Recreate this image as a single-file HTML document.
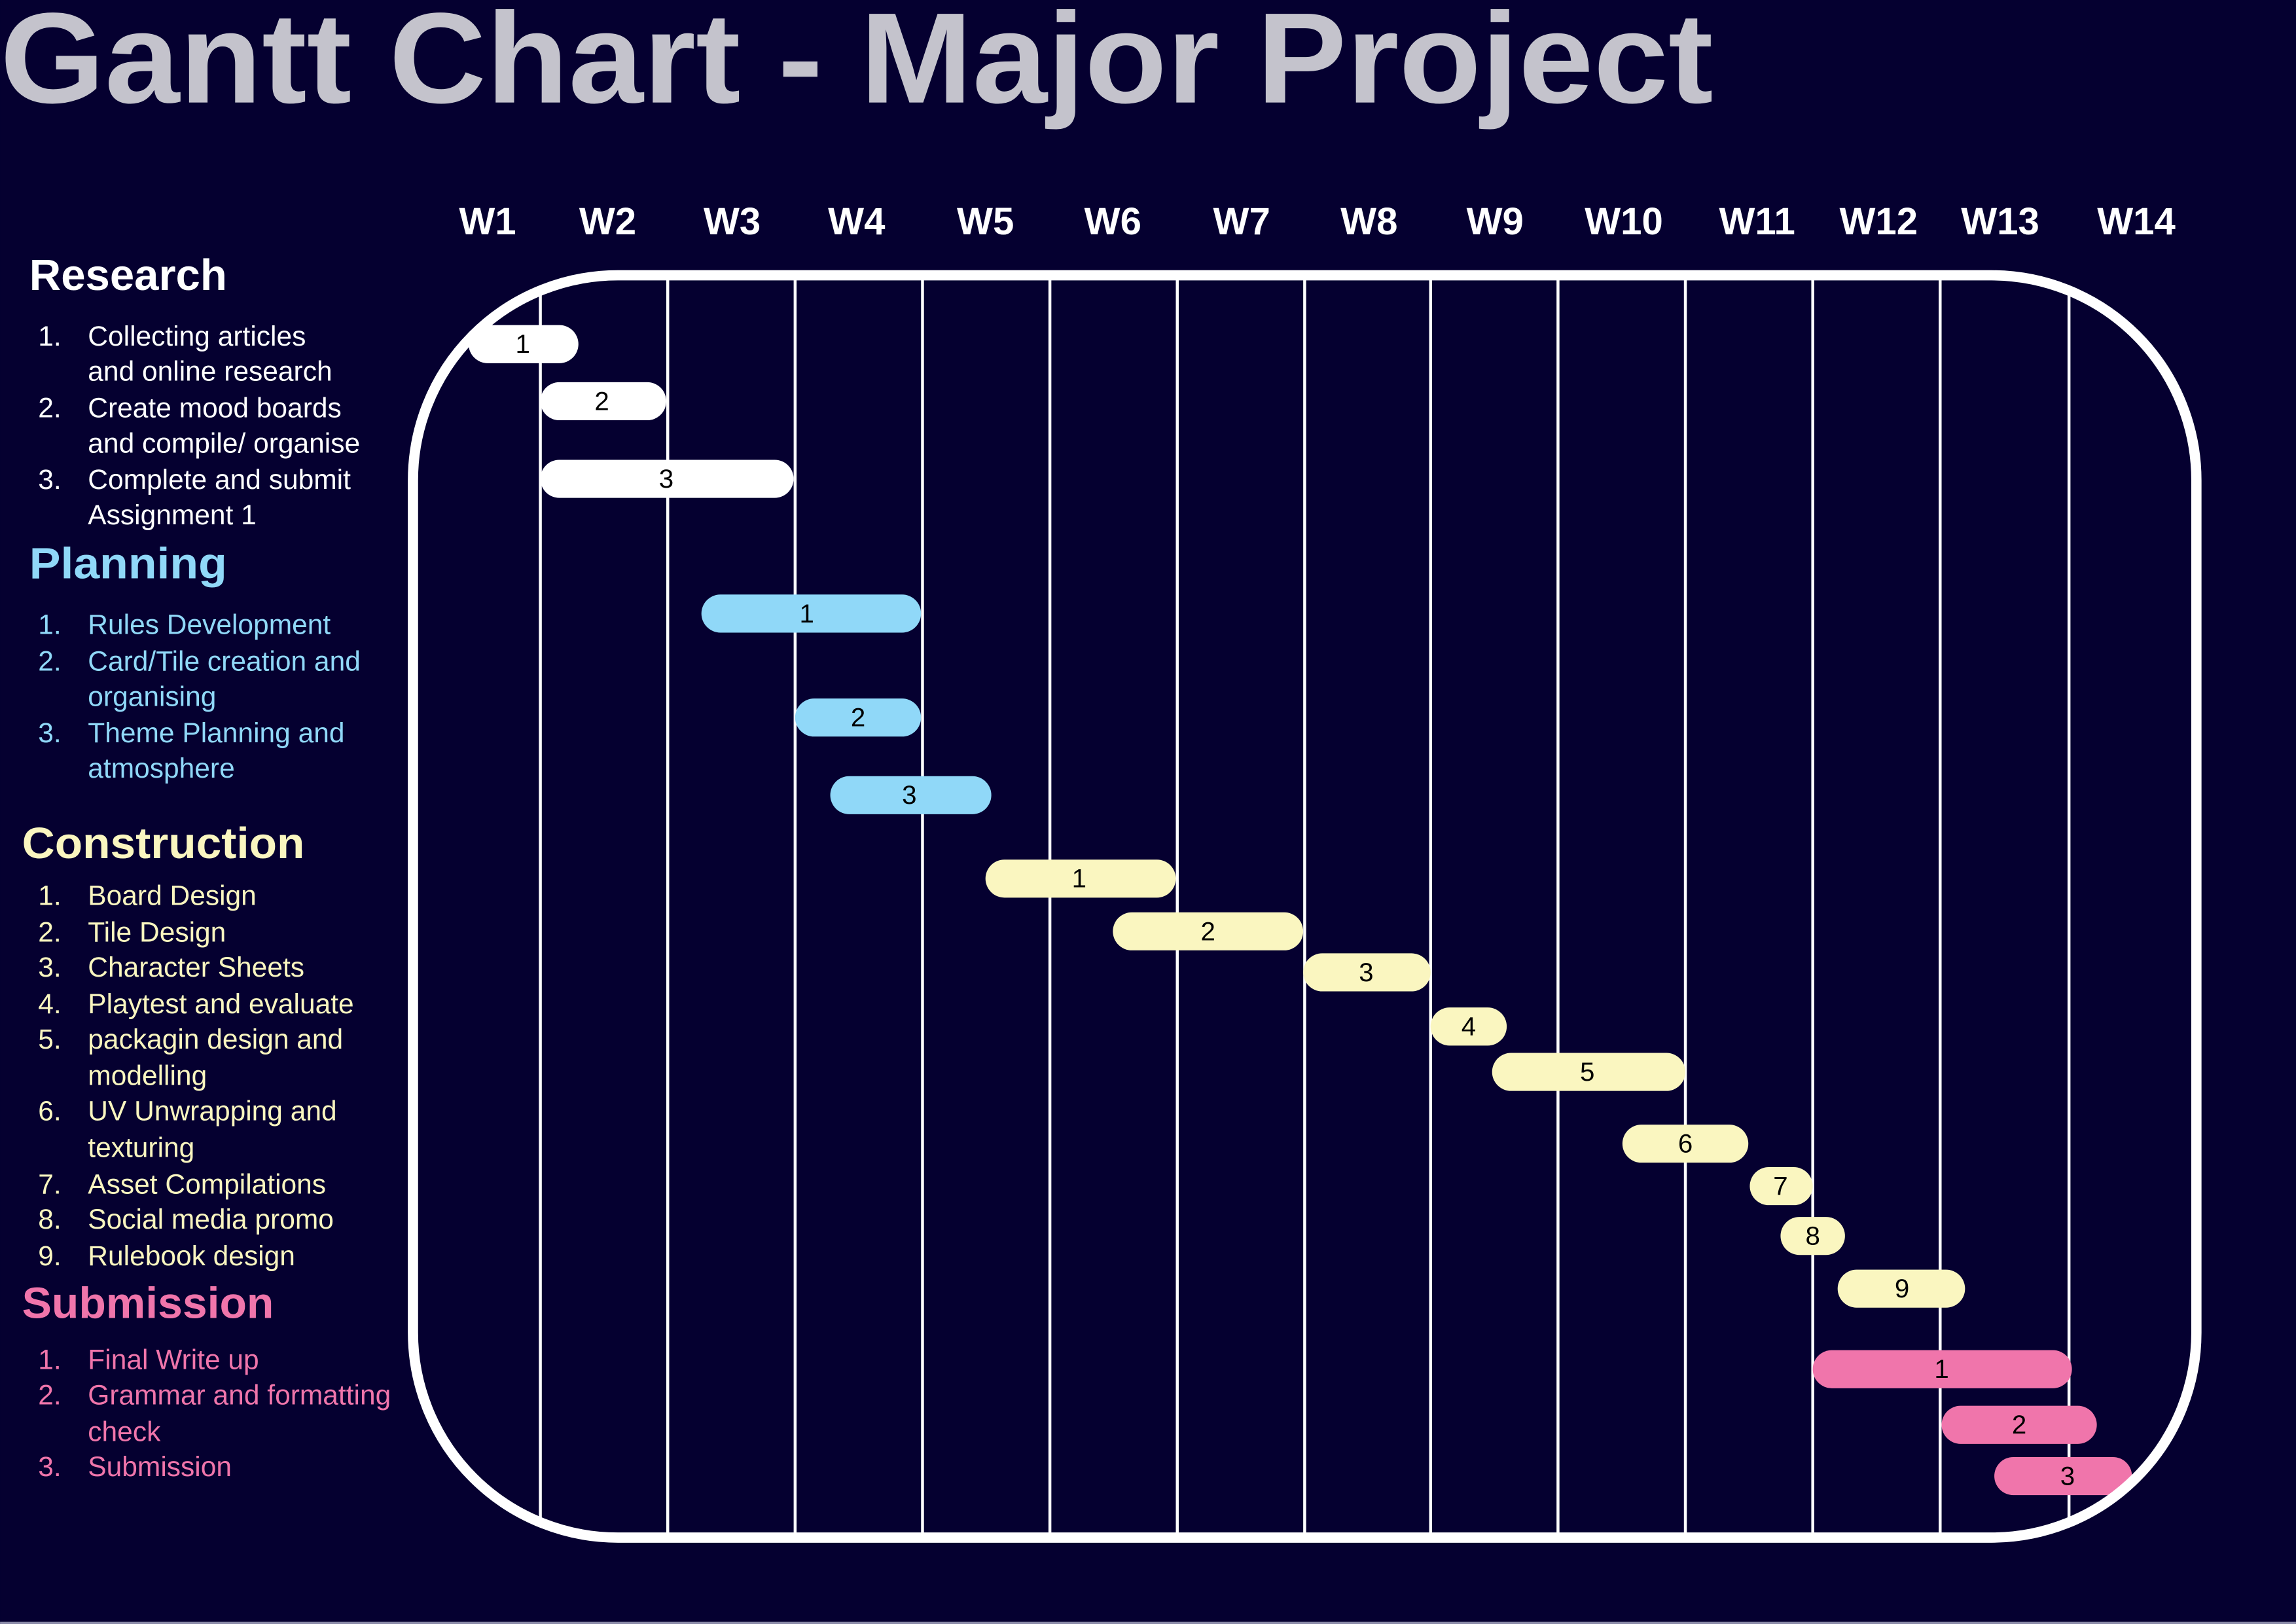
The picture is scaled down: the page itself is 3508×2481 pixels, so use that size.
<!DOCTYPE html>
<html><head><meta charset="utf-8"><style>
html,body{margin:0;padding:0;background:#050030;}
svg{display:block;}
text{font-family:"Liberation Sans",sans-serif;}
</style></head><body>
<svg width="3508" height="2481" viewBox="0 0 1568 1109" xmlns="http://www.w3.org/2000/svg">
<rect x="0" y="0" width="1568" height="1109" fill="#050030"/>
<rect x="0" y="1107.5" width="1568" height="1.5" fill="#8a8aa8"/>
<text x="0" y="70" font-size="88" font-weight="bold" fill="#c4c3cc" textLength="1170" lengthAdjust="spacingAndGlyphs">Gantt Chart - Major Project</text>
<g font-size="26" font-weight="bold" fill="#ffffff" text-anchor="middle">
<text x="333" y="160">W1</text><text x="415" y="160">W2</text><text x="500" y="160">W3</text><text x="585" y="160">W4</text><text x="673" y="160">W5</text><text x="760" y="160">W6</text><text x="848" y="160">W7</text><text x="935" y="160">W8</text><text x="1021" y="160">W9</text><text x="1109" y="160">W10</text><text x="1200" y="160">W11</text><text x="1283" y="160">W12</text><text x="1366" y="160">W13</text><text x="1459" y="160">W14</text>
</g>
<defs><clipPath id="c"><rect x="282" y="188" width="1218" height="862" rx="140" ry="140"/></clipPath></defs>
<g clip-path="url(#c)" stroke="#ffffff" stroke-width="2">
<line x1="369" y1="180" x2="369" y2="1060"/><line x1="456" y1="180" x2="456" y2="1060"/><line x1="543" y1="180" x2="543" y2="1060"/><line x1="630" y1="180" x2="630" y2="1060"/><line x1="717" y1="180" x2="717" y2="1060"/><line x1="804" y1="180" x2="804" y2="1060"/><line x1="891" y1="180" x2="891" y2="1060"/><line x1="977" y1="180" x2="977" y2="1060"/><line x1="1064" y1="180" x2="1064" y2="1060"/><line x1="1151" y1="180" x2="1151" y2="1060"/><line x1="1238" y1="180" x2="1238" y2="1060"/><line x1="1325" y1="180" x2="1325" y2="1060"/><line x1="1413" y1="180" x2="1413" y2="1060"/>
</g>
<g>
<rect x="320" y="222" width="75" height="26" rx="13" fill="#fff"/>
<rect x="369" y="261" width="86" height="26" rx="13" fill="#fff"/>
<rect x="369" y="314" width="173" height="26" rx="13" fill="#fff"/>
<rect x="479" y="406" width="150" height="26" rx="13" fill="#90d8f8"/>
<rect x="543" y="477" width="86" height="26" rx="13" fill="#90d8f8"/>
<rect x="567" y="530" width="110" height="26" rx="13" fill="#90d8f8"/>
<rect x="673" y="587" width="130" height="26" rx="13" fill="#faf6c0"/>
<rect x="760" y="623" width="130" height="26" rx="13" fill="#faf6c0"/>
<rect x="890" y="651" width="87" height="26" rx="13" fill="#faf6c0"/>
<rect x="977" y="688" width="52" height="26" rx="13" fill="#faf6c0"/>
<rect x="1019" y="719" width="132" height="26" rx="13" fill="#faf6c0"/>
<rect x="1108" y="768" width="86" height="26" rx="13" fill="#faf6c0"/>
<rect x="1195" y="797" width="43" height="26" rx="13" fill="#faf6c0"/>
<rect x="1216" y="831" width="44" height="26" rx="13" fill="#faf6c0"/>
<rect x="1255" y="867" width="87" height="26" rx="13" fill="#faf6c0"/>
<rect x="1238" y="922" width="177" height="26" rx="13" fill="#f075ab"/>
<rect x="1326" y="960" width="106" height="26" rx="13" fill="#f075ab"/>
<rect x="1362" y="995" width="94" height="26" rx="13" fill="#f075ab"/>
</g>
<rect x="282" y="188" width="1218" height="862" rx="140" ry="140" fill="none" stroke="#ffffff" stroke-width="7"/>
<g font-size="18" fill="#000" text-anchor="middle">
<text x="357" y="241">1</text><text x="411" y="280">2</text><text x="455" y="333">3</text>
<text x="551" y="425">1</text><text x="586" y="496">2</text><text x="621" y="549">3</text>
<text x="737" y="606">1</text><text x="825" y="642">2</text><text x="933" y="670">3</text><text x="1003" y="707">4</text><text x="1084" y="738">5</text><text x="1151" y="787">6</text><text x="1216" y="816">7</text><text x="1238" y="850">8</text><text x="1299" y="886">9</text>
<text x="1326" y="941">1</text><text x="1379" y="979">2</text><text x="1412" y="1014">3</text>
</g>
<g font-weight="bold" font-size="30">
<text x="20" y="198" fill="#ffffff" textLength="135" lengthAdjust="spacingAndGlyphs">Research</text>
<text x="20" y="395" fill="#90d8f8" textLength="135" lengthAdjust="spacingAndGlyphs">Planning</text>
<text x="15" y="586" fill="#faf6c0" textLength="193" lengthAdjust="spacingAndGlyphs">Construction</text>
<text x="15" y="900" fill="#f075ab" textLength="172" lengthAdjust="spacingAndGlyphs">Submission</text>
</g>
<g font-size="19" fill="#ffffff">
<text x="26" y="236">1.</text><text x="60" y="236">Collecting articles</text>
<text x="60" y="260">and online research</text>
<text x="26" y="285">2.</text><text x="60" y="285">Create mood boards</text>
<text x="60" y="309">and compile/ organise</text>
<text x="26" y="334">3.</text><text x="60" y="334">Complete and submit</text>
<text x="60" y="358">Assignment 1</text>
</g>
<g font-size="19" fill="#90d8f8">
<text x="26" y="433">1.</text><text x="60" y="433">Rules Development</text>
<text x="26" y="458">2.</text><text x="60" y="458">Card/Tile creation and</text>
<text x="60" y="482">organising</text>
<text x="26" y="507">3.</text><text x="60" y="507">Theme Planning and</text>
<text x="60" y="531">atmosphere</text>
</g>
<g font-size="19" fill="#faf6c0">
<text x="26" y="618">1.</text><text x="60" y="618">Board Design</text>
<text x="26" y="643">2.</text><text x="60" y="643">Tile Design</text>
<text x="26" y="667">3.</text><text x="60" y="667">Character Sheets</text>
<text x="26" y="692">4.</text><text x="60" y="692">Playtest and evaluate</text>
<text x="26" y="716">5.</text><text x="60" y="716">packagin design and</text>
<text x="60" y="741">modelling</text>
<text x="26" y="765">6.</text><text x="60" y="765">UV Unwrapping and</text>
<text x="60" y="790">texturing</text>
<text x="26" y="815">7.</text><text x="60" y="815">Asset Compilations</text>
<text x="26" y="839">8.</text><text x="60" y="839">Social media promo</text>
<text x="26" y="864">9.</text><text x="60" y="864">Rulebook design</text>
</g>
<g font-size="19" fill="#f075ab">
<text x="26" y="935">1.</text><text x="60" y="935">Final Write up</text>
<text x="26" y="959">2.</text><text x="60" y="959">Grammar and formatting</text>
<text x="60" y="984">check</text>
<text x="26" y="1008">3.</text><text x="60" y="1008">Submission</text>
</g>
</svg>
</body></html>
